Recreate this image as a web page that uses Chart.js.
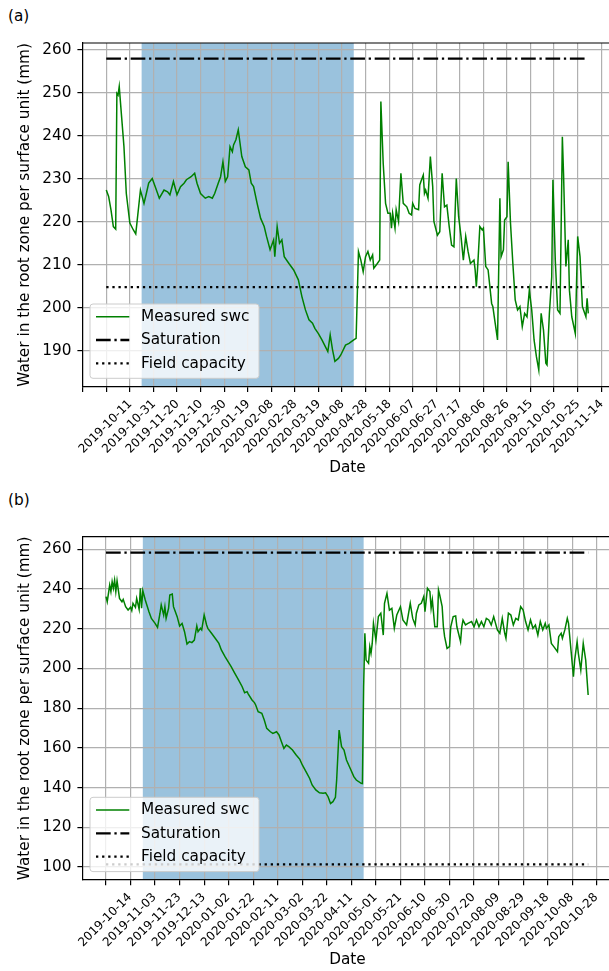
<!DOCTYPE html>
<html><head><meta charset="utf-8">
<script src="https://cdn.jsdelivr.net/npm/chart.js@4.4.1/dist/chart.umd.min.js"></script>
<style>
html,body{margin:0;padding:0;background:#fff;overflow:hidden;width:609px;height:971px;position:relative;}
canvas{position:absolute;left:0;}
#ca{top:0;} #cb{top:485px;}
.panel{position:absolute;left:8px;font-family:'DejaVu Sans';font-size:15.3px;line-height:18px;color:#000;}
</style></head><body>
<div class="panel" style="top:7px">(a)</div>
<div class="panel" style="top:491px">(b)</div>
<canvas id="ca" width="640" height="485"></canvas>
<canvas id="cb" width="640" height="486"></canvas>
<script>
// ---------- Panel (a) ----------
// days since 2019-10-11
const daysA = [0,2,4,6,8,9,10,11,13,15,17,20,23,25,26,29,32,34,36,39,42,45,49,52,54,57,60,63,66,68,72,75,77,80,84,87,90,92,95,97,99,101,103,105,107,108,110,112,115,118,121,123,125,128,131,134,136,139,142,143,145,147,149,151,155,159,163,166,169,172,175,177,180,183,186,188,190,192,194,197,199,203,206,210,212,214,216,218,220,222,224,226,227,230,232,233,235,237,239,241,242,243,245,246,248,250,252,255,257,259,260,262,265,266,267,269,270,271,273,275,277,278,281,283,285,287,289,291,293,295,297,299,301,303,305,307,309,312,313,314,315,317,319,320,322,324,327,328,330,332,334,335,337,338,340,341,343,345,347,349,351,353,355,357,359,361,363,365,367,369,371,373,374,376,378,379,381,383,385,387,388,390,392,393,395,398,400,402,404,405,407,408,409];
const swcA = [227.4,225.9,222.8,218.9,218.3,249.9,249.5,251.5,244.5,237.5,226.6,219.7,218.1,217.2,219.7,227.4,224.3,226.6,229,230.1,227.8,225.5,227.4,227,226.3,229.4,226.3,228.2,229,229.8,230.5,231.3,229,226.6,225.5,225.9,225.5,226.6,229,230.5,234,229.4,230.5,237.5,236.3,237.9,239.1,241.4,235.2,232.8,232.1,229,228.2,224.3,220.8,218.9,216.6,213.5,215.8,211.9,218.9,215,215.8,211.9,210.3,208.8,206.5,202.6,199.5,197.2,196.4,195.2,194,192.5,190.9,189.8,193.7,190.2,187.5,188.2,189,191.3,191.7,192.5,192.9,213.1,211.1,208.4,211.9,213.1,211.1,212.3,209.2,210.3,211.1,248,233.6,224.3,222,222,218.5,222,218.5,222.8,220.1,231.3,224.3,223.5,222,221.6,224.3,223.1,222.8,228.6,229.4,230.9,226.6,227.4,225.5,235.2,228.2,220.1,216.9,217.7,231.3,223.5,223.9,218.9,214.6,214.2,230.1,221.2,216.6,211.1,216.6,213.1,210.3,211.1,208.8,204.9,208.8,218.9,218.1,218.5,209.6,208.8,201,200.3,196.4,192.5,225.5,211.9,213.5,220.4,221.2,234,219.7,210.3,201.8,199.5,200.3,195.6,198.7,197.9,204.1,199.5,192.5,188.6,185.5,198.7,194.8,187.1,186.7,198.7,207.2,229.8,211.1,199.5,198.7,239.8,231.3,209.6,215.8,204.1,197.9,194,216.6,211.9,200.3,199.5,197.9,202.2,198.7];
const saturationA = 258.0;
const fieldCapacityA = 204.8;
const shadeDaysA = [30, 210];
const tickLabelsA = ['2019-10-11','2019-10-31','2019-11-20','2019-12-10','2019-12-30','2020-01-19','2020-02-08','2020-02-28','2020-03-19','2020-04-08','2020-04-28','2020-05-18','2020-06-07','2020-06-27','2020-07-17','2020-08-06','2020-08-26','2020-09-15','2020-10-05','2020-10-25','2020-11-14'];
const yTicksA = [190,200,210,220,230,240,250,260];

// ---------- Panel (b) ----------
// days since 2019-10-14
const daysB = [0,1,3,4,5,6,7,8,9,11,13,14,16,18,20,21,22,24,25,27,28,29,30,32,35,37,40,42,44,45,47,48,49,51,52,54,55,56,58,60,62,64,66,68,70,72,74,75,77,78,80,82,83,86,89,92,94,97,100,102,105,108,111,113,115,116,119,121,122,124,127,129,131,134,136,139,141,143,145,147,149,152,155,158,160,163,166,168,171,174,177,179,181,183,185,187,188,190,192,194,196,199,202,204,208,209,210,211,212,214,215,216,217,218,220,222,224,226,227,229,231,233,235,237,240,242,245,248,250,252,253,255,257,259,260,262,264,265,266,268,270,271,272,274,275,276,278,280,281,283,285,286,289,290,291,293,295,298,300,302,304,306,308,310,312,314,316,319,321,323,325,326,328,330,332,334,336,338,340,342,344,346,348,350,352,354,356,358,359,361,363,365,368,369,371,372,374,376,377,379,381,382,384,385,387,389,391,393];
const swcB = [236.2,233.6,242,238.7,243.7,240.4,244.5,238.7,244.2,235.3,233.6,234.8,231.1,229.4,230.8,229.1,232.8,230.8,235.3,229.8,240.4,230.3,239.2,234.5,228.6,225.2,222.7,220.7,227.8,232,226.9,231.1,225.2,230.3,237,237.5,231.1,229.4,226.1,221.4,222.7,218.5,212.3,213.5,213,214.3,221.4,218.5,220.2,219.4,226.9,221.9,220.2,217.7,215.2,212.6,209.3,205.9,202.9,200.9,197.5,194.2,190.8,187.8,188.3,187.1,184.1,182.8,181.6,178.2,177.4,174,169.8,168.1,167.3,168.1,166.5,163.1,159.7,161.4,160.6,158.9,156.4,154.2,151.4,148,144.6,141.3,138.8,137.4,137.1,137.4,135.4,132,132.9,135.1,143.8,169,160.6,158.9,153.9,149.7,145.5,143.8,142.1,142,190.8,217.7,204.2,202.6,211,207.6,212.6,222.7,214.3,226.1,227.8,216.8,232.8,237.8,229.4,230.3,220.2,226.9,231.1,224.4,221.9,232.8,225.2,221.9,227.8,232,232.8,236.2,228.6,240.4,238.7,230.3,234.5,221,221,239.5,237,231.1,221,216,210.1,211,221,226.1,226.4,221,213.5,221,224.4,221.9,222.7,223.6,221,224.4,221,223.6,221,225.2,224.4,221.9,226.1,219.4,217.7,225.2,217.7,215.2,227.8,226.9,221.9,225.2,224.4,231.1,229.4,223.6,219.4,224.4,220.2,221.9,216.8,223.6,219.4,222.7,220.2,221.9,212.6,211,208.4,216,217.7,215.2,219.4,225.2,222.7,209.3,195.9,204.2,213.5,207.6,199.2,212.6,204.2,186.6];
const saturationB = 258.3;
const fieldCapacityB = 101.3;
const shadeDaysB = [30, 210];
const tickLabelsB = ['2019-10-14','2019-11-03','2019-11-23','2019-12-13','2020-01-02','2020-01-22','2020-02-11','2020-03-02','2020-03-22','2020-04-11','2020-05-01','2020-05-21','2020-06-10','2020-06-30','2020-07-20','2020-08-09','2020-08-29','2020-09-18','2020-10-08','2020-10-28'];
const yTicksB = [100,120,140,160,180,200,220,240,260];

const TICK_STEP_DAYS = 20;
const FONT = 'DejaVu Sans';
const SAT_DASH = [14.7, 3.7, 2.3, 3.7];
const FC_DASH = [2.3, 3.8];

function build(id, o) {
  const lastDay = o.days[o.days.length - 1];
  const tickDays = [];
  for (let d = -TICK_STEP_DAYS; d <= o.xmax; d += TICK_STEP_DAYS) if (d >= o.xmin) tickDays.push(d);

  const shade = {
    id: 'shade_' + id,
    beforeDraw(chart) {
      const a = chart.chartArea, x = chart.scales.x, ctx = chart.ctx;
      const x0 = x.getPixelForValue(o.shade[0]), x1 = x.getPixelForValue(o.shade[1]);
      ctx.save();
      ctx.fillStyle = 'rgba(31,119,180,0.45)';
      ctx.fillRect(x0, a.top, x1 - x0, a.bottom - a.top);
      ctx.restore();
    }
  };
  const legendBox = {
    id: 'legend_' + id,
    afterDraw(chart) {
      const a = chart.chartArea, ctx = chart.ctx;
      ctx.save();
      // top spine
      ctx.strokeStyle = '#000'; ctx.lineWidth = 1.2; ctx.setLineDash([]);
      ctx.beginPath(); ctx.moveTo(a.left, a.top); ctx.lineTo(a.right + 2, a.top); ctx.stroke();
      const bw = 169, bh = 74.3, bx = a.left + 7.3, by = a.bottom - 8.4 - bh, r = 3;
      ctx.beginPath();
      ctx.moveTo(bx + r, by); ctx.lineTo(bx + bw - r, by); ctx.arcTo(bx + bw, by, bx + bw, by + r, r);
      ctx.lineTo(bx + bw, by + bh - r); ctx.arcTo(bx + bw, by + bh, bx + bw - r, by + bh, r);
      ctx.lineTo(bx + r, by + bh); ctx.arcTo(bx, by + bh, bx, by + bh - r, r);
      ctx.lineTo(bx, by + r); ctx.arcTo(bx, by, bx + r, by, r); ctx.closePath();
      ctx.fillStyle = 'rgba(255,255,255,0.8)'; ctx.fill();
      ctx.strokeStyle = '#cccccc'; ctx.lineWidth = 1; ctx.stroke();
      chart.data.datasets.forEach((ds, i) => {
        const cy = by + 12.7 + i * 23.3;
        ctx.strokeStyle = ds.borderColor; ctx.lineWidth = ds.borderWidth;
        ctx.setLineDash(ds.borderDash || []); ctx.lineCap = 'butt';
        ctx.beginPath(); ctx.moveTo(bx + 6, cy); ctx.lineTo(bx + 39.3, cy); ctx.stroke();
        ctx.setLineDash([]);
        ctx.fillStyle = '#000'; ctx.font = '15.3px "' + FONT + '"';
        ctx.textBaseline = 'middle'; ctx.textAlign = 'left';
        ctx.fillText(ds.label, bx + 51, cy + 0.5);
      });
      ctx.restore();
    }
  };

  new Chart(document.getElementById(id), {
    type: 'line',
    data: { datasets: [
      { label: 'Measured swc', data: o.days.map((d, i) => ({ x: d, y: o.swc[i] })),
        borderColor: '#008000', borderWidth: 1.5, pointRadius: 0, tension: 0, fill: false },
      { label: 'Saturation', data: [{ x: o.days[0], y: o.sat }, { x: lastDay, y: o.sat }],
        borderColor: '#000000', borderWidth: 2.3, borderDash: SAT_DASH, pointRadius: 0, fill: false },
      { label: 'Field capacity', data: [{ x: o.days[0], y: o.fc }, { x: lastDay, y: o.fc }],
        borderColor: '#000000', borderWidth: 2.3, borderDash: FC_DASH, pointRadius: 0, fill: false }
    ] },
    options: {
      responsive: false, animation: false, devicePixelRatio: 1,
      layout: { padding: { top: o.padTop, left: 0, right: 640 - 612.2, bottom: 0 } },
      plugins: { legend: { display: false }, tooltip: { enabled: false } },
      scales: {
        x: {
          type: 'linear', min: o.xmin, max: o.xmax,
          afterFit(s) { s.height = o.xAxisH; s.paddingLeft = 0; s.paddingRight = 0; },
          afterBuildTicks(s) { s.ticks = tickDays.map(v => ({ value: v })); },
          ticks: {
            autoSkip: false, minRotation: 45, maxRotation: 45, padding: 5, labelOffset: 24,
            font: { family: FONT, size: 12 }, color: '#000',
            callback(v) { const k = Math.round(v / TICK_STEP_DAYS); return (k >= 0 && k < o.labels.length) ? o.labels[k] : ''; }
          },
          grid: { color: '#b0b0b0', lineWidth: 1.2, tickLength: 5.3, tickColor: '#000', tickWidth: 1.2 },
          border: { color: '#000', width: 1.2 },
          title: { display: true, text: 'Date', color: '#000', font: { family: FONT, size: 15.3 }, padding: { top: 0, bottom: o.titlePadB } }
        },
        y: {
          type: 'linear', min: o.ymin, max: o.ymax,
          afterFit(s) { s.width = 82.7; s.paddingTop = 0; s.paddingBottom = 0; },
          afterBuildTicks(s) { s.ticks = o.yTicks.map(v => ({ value: v })); },
          ticks: { padding: 6, font: { family: FONT, size: 15.3 }, color: '#000', callback: v => String(v) },
          grid: { color: '#b0b0b0', lineWidth: 1.2, tickLength: 5.3, tickColor: '#000', tickWidth: 1.2 },
          border: { color: '#000', width: 1.2 },
          title: { display: true, text: 'Water in the root zone per surface unit (mm)', color: '#000', font: { family: FONT, size: 15.3 }, padding: { top: 15.8, bottom: 0 } }
        }
      }
    },
    plugins: [shade, legendBox]
  });
}

build('ca', { days: daysA, swc: swcA, sat: saturationA, fc: fieldCapacityA, shade: shadeDaysA,
  labels: tickLabelsA, yTicks: yTicksA, xmin: -20, xmax: 429.3, ymin: 181.62, ymax: 261.63,
  padTop: 43, xAxisH: 485 - 386.7, titlePadB: 7.5 });
build('cb', { days: daysB, swc: swcB, sat: saturationB, fc: fieldCapacityB, shade: shadeDaysB,
  labels: tickLabelsB, yTicks: yTicksB, xmin: -19, xmax: 412.6, ymin: 93.45, ymax: 266.35,
  padTop: 51.7, xAxisH: 486 - 395, titlePadB: 1.8 });
</script>
</body></html>
